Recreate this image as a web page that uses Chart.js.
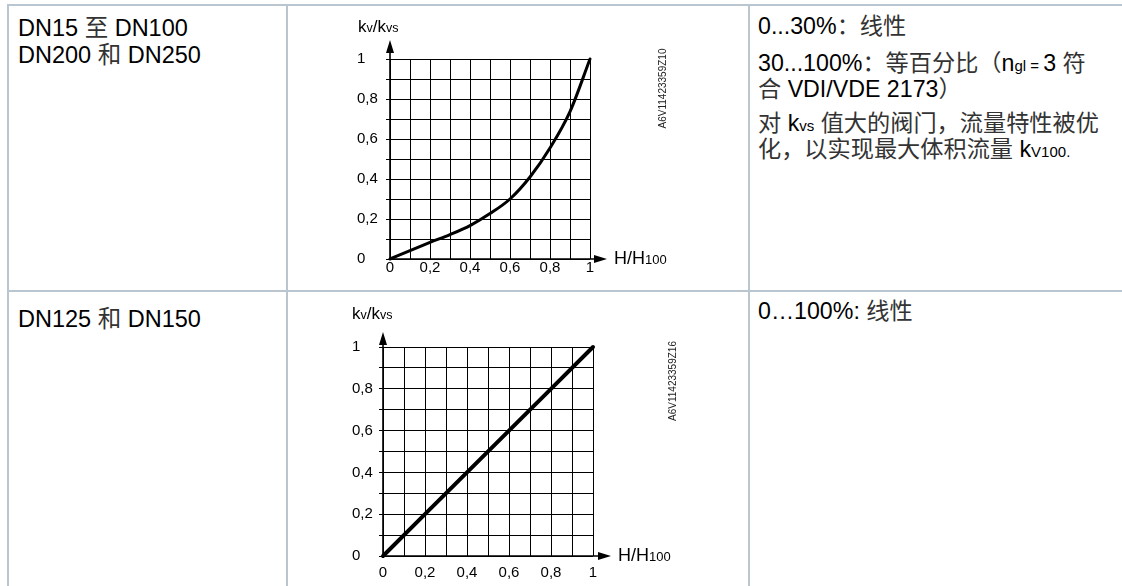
<!DOCTYPE html>
<html>
<head>
<meta charset="utf-8">
<script src="https://cdn.jsdelivr.net/npm/chart.js@4.4.1/dist/chart.umd.min.js"></script>
<style>
html,body{margin:0;padding:0;background:#fff;width:1122px;height:586px;overflow:hidden;}
body{position:relative;font-family:"Liberation Sans",Arial,"Noto Sans CJK SC",sans-serif;color:#000;}
.b{position:absolute;background:#b9c5cf;}
.t{position:absolute;white-space:nowrap;}
.c1{font-size:23.5px;line-height:27px;left:18px;}
.c3{font-size:23.2px;line-height:25.5px;left:758px;}
.cj{font-family:"Noto Sans CJK SC",sans-serif;color:#333;line-height:0;}
.s{font-size:15px;line-height:0;}
canvas{position:absolute;}
</style>
</head>
<body>
<!-- table borders -->
<div class="b" style="left:7px;top:4px;width:1115px;height:2px;"></div>
<div class="b" style="left:7px;top:290px;width:1115px;height:2px;"></div>
<div class="b" style="left:7px;top:4px;width:2px;height:582px;"></div>
<div class="b" style="left:286px;top:4px;width:2px;height:582px;"></div>
<div class="b" style="left:748px;top:4px;width:2px;height:582px;"></div>

<!-- column 1 -->
<div class="t c1" style="top:14.8px;">DN15 <span class="cj">至</span> DN100<br>DN200 <span class="cj">和</span> DN250</div>
<div class="t c1" style="top:305.6px;">DN125 <span class="cj">和</span> DN150</div>

<!-- column 3 -->
<div class="t c3" style="top:14.3px;">0...30%<span class="cj">：线性</span></div>
<div class="t c3" style="top:51.3px;">30...100%<span class="cj">：等百分比（</span>n<span class="s">gl = </span>3 <span class="cj">符</span><br><span class="cj">合</span> VDI/VDE 2173<span class="cj">）</span></div>
<div class="t c3" style="top:111.1px;"><span class="cj">对</span> k<span class="s">vs</span> <span class="cj">值大的阀门，流量特性被优</span><br><span class="cj">化，以实现最大体积流量</span> k<span class="s">V100.</span></div>
<div class="t c3" style="top:299.1px;">0…100%: <span class="cj">线性</span></div>

<canvas id="c1" width="360" height="275" style="left:330px;top:10px;"></canvas>
<canvas id="c2" width="380" height="286" style="left:320px;top:295px;"></canvas>

<script>
// ---- data ----
const xTickLabels = ['0', '0,2', '0,4', '0,6', '0,8', '1'];
const yTickLabels = ['0', '0,2', '0,4', '0,6', '0,8', '1'];
const travel1 = [0, 0.1, 0.2, 0.3, 0.4, 0.5, 0.6, 0.7, 0.8, 0.9, 1];
const flow1   = [0, 0.042, 0.083, 0.122, 0.167, 0.227, 0.300, 0.410, 0.555, 0.737, 1];
const travel2 = [0, 0.2, 0.4, 0.6, 0.8, 1];
const flow2   = [0, 0.2, 0.4, 0.6, 0.8, 1];
const yTitleParts = [['k', 17], ['v', 12.5], ['/', 17], ['k', 17], ['vs', 12.5]];
const xTitleParts = [['H', 18], ['/', 18], ['H', 18], ['100', 13]];
const codes = ['A6V11423359Z10', 'A6V11423359Z16'];

const FONT = '"Liberation Sans", Arial, sans-serif';

function drawParts(ctx, x, y, parts) {
  ctx.textAlign = 'left';
  ctx.textBaseline = 'alphabetic';
  for (const [t, s] of parts) {
    ctx.font = s + 'px ' + FONT;
    ctx.fillText(t, x, y);
    x += ctx.measureText(t).width;
  }
}

const deco = {
  id: 'deco',
  beforeDatasetsDraw(chart, args, o) {
    const ctx = chart.ctx;
    const x0 = chart.scales.x.getPixelForValue(0);
    const x1 = chart.scales.x.getPixelForValue(1);
    const y0 = chart.scales.y.getPixelForValue(0);
    const y1 = chart.scales.y.getPixelForValue(1);
    ctx.save();
    ctx.strokeStyle = '#000';
    ctx.fillStyle = '#000';
    ctx.lineWidth = 1.6;
    ctx.beginPath();
    ctx.moveTo(x0, y0); ctx.lineTo(x0, y1 - o.yExt + 4);
    ctx.moveTo(x0, y0); ctx.lineTo(x1 + o.xExt - 4, y0);
    ctx.stroke();
    ctx.beginPath();
    ctx.moveTo(x0, y1 - o.yExt);
    ctx.lineTo(x0 - 4, y1 - o.yExt + 13);
    ctx.lineTo(x0 + 4, y1 - o.yExt + 13);
    ctx.closePath();
    ctx.moveTo(x1 + o.xExt, y0);
    ctx.lineTo(x1 + o.xExt - 13, y0 - 4);
    ctx.lineTo(x1 + o.xExt - 13, y0 + 4);
    ctx.closePath();
    ctx.fill();
    ctx.restore();
  },
  afterDraw(chart, args, o) {
    const ctx = chart.ctx;
    const a = chart.chartArea;
    ctx.save();
    ctx.fillStyle = '#000';
    drawParts(ctx, a.left + o.ytx, a.top + o.yty, yTitleParts);
    drawParts(ctx, a.right + o.xtx, a.bottom + o.xty, xTitleParts);
    ctx.translate(a.right + o.wx, a.top + o.wy);
    ctx.rotate(-Math.PI / 2);
    ctx.font = '10px ' + FONT;
    ctx.fillStyle = '#222';
    ctx.textAlign = 'center';
    ctx.textBaseline = 'middle';
    ctx.fillText(o.code, 0, 0);
    ctx.restore();
  }
};

function makeChart(id, xs, ys, lw, smooth, pad, yW, xH, xPad, d) {
  const pts = xs.map((x, i) => ({x: x, y: ys[i]}));
  return new Chart(document.getElementById(id), {
    type: 'line',
    data: {datasets: [{
      data: pts,
      borderColor: '#000',
      borderWidth: lw,
      pointRadius: 0,
      fill: false,
      tension: smooth ? 0.4 : 0,
      cubicInterpolationMode: smooth ? 'monotone' : 'default',
      borderCapStyle: 'round',
      clip: false
    }]},
    options: {
      responsive: false,
      animation: false,
      events: [],
      layout: {padding: pad},
      plugins: {legend: {display: false}, tooltip: {enabled: false}, deco: d},
      scales: {
        x: {
          type: 'linear', min: 0, max: 1,
          afterFit: s => { s.height = xH; },
          border: {display: false},
          grid: {color: '#000', lineWidth: 1, drawTicks: false},
          ticks: {
            stepSize: 0.1, autoSkip: false, maxRotation: 0, padding: xPad,
            color: '#000', font: {family: FONT, size: 15},
            callback: (v, i) => (i % 2 === 0 ? xTickLabels[i / 2] : '')
          }
        },
        y: {
          type: 'linear', min: 0, max: 1,
          afterFit: s => { s.width = yW; },
          border: {display: false},
          grid: {color: '#000', lineWidth: 1, drawTicks: true, tickLength: 4},
          ticks: {
            stepSize: 0.1, autoSkip: false, crossAlign: 'far',
            color: '#000', font: {family: FONT, size: 15},
            callback: (v, i) => (i % 2 === 0 ? yTickLabels[i / 2] : '')
          }
        }
      }
    },
    plugins: [deco]
  });
}

makeChart('c1', travel1, flow1, 3, true,
  {left: 27, right: 100, top: 49, bottom: 0}, 33, 26, 0,
  {yExt: 19, xExt: 17, ytx: -32, yty: -27, xtx: 24, xty: 4.5, wx: 73, wy: 29.5, code: codes[0]});

makeChart('c2', travel2, flow2, 4, false,
  {left: 32, right: 107, top: 52, bottom: 0}, 31, 25, 8,
  {yExt: 15, xExt: 18, ytx: -31, yty: -28, xtx: 25, xty: 5, wx: 80, wy: 34, code: codes[1]});
</script>
</body>
</html>
